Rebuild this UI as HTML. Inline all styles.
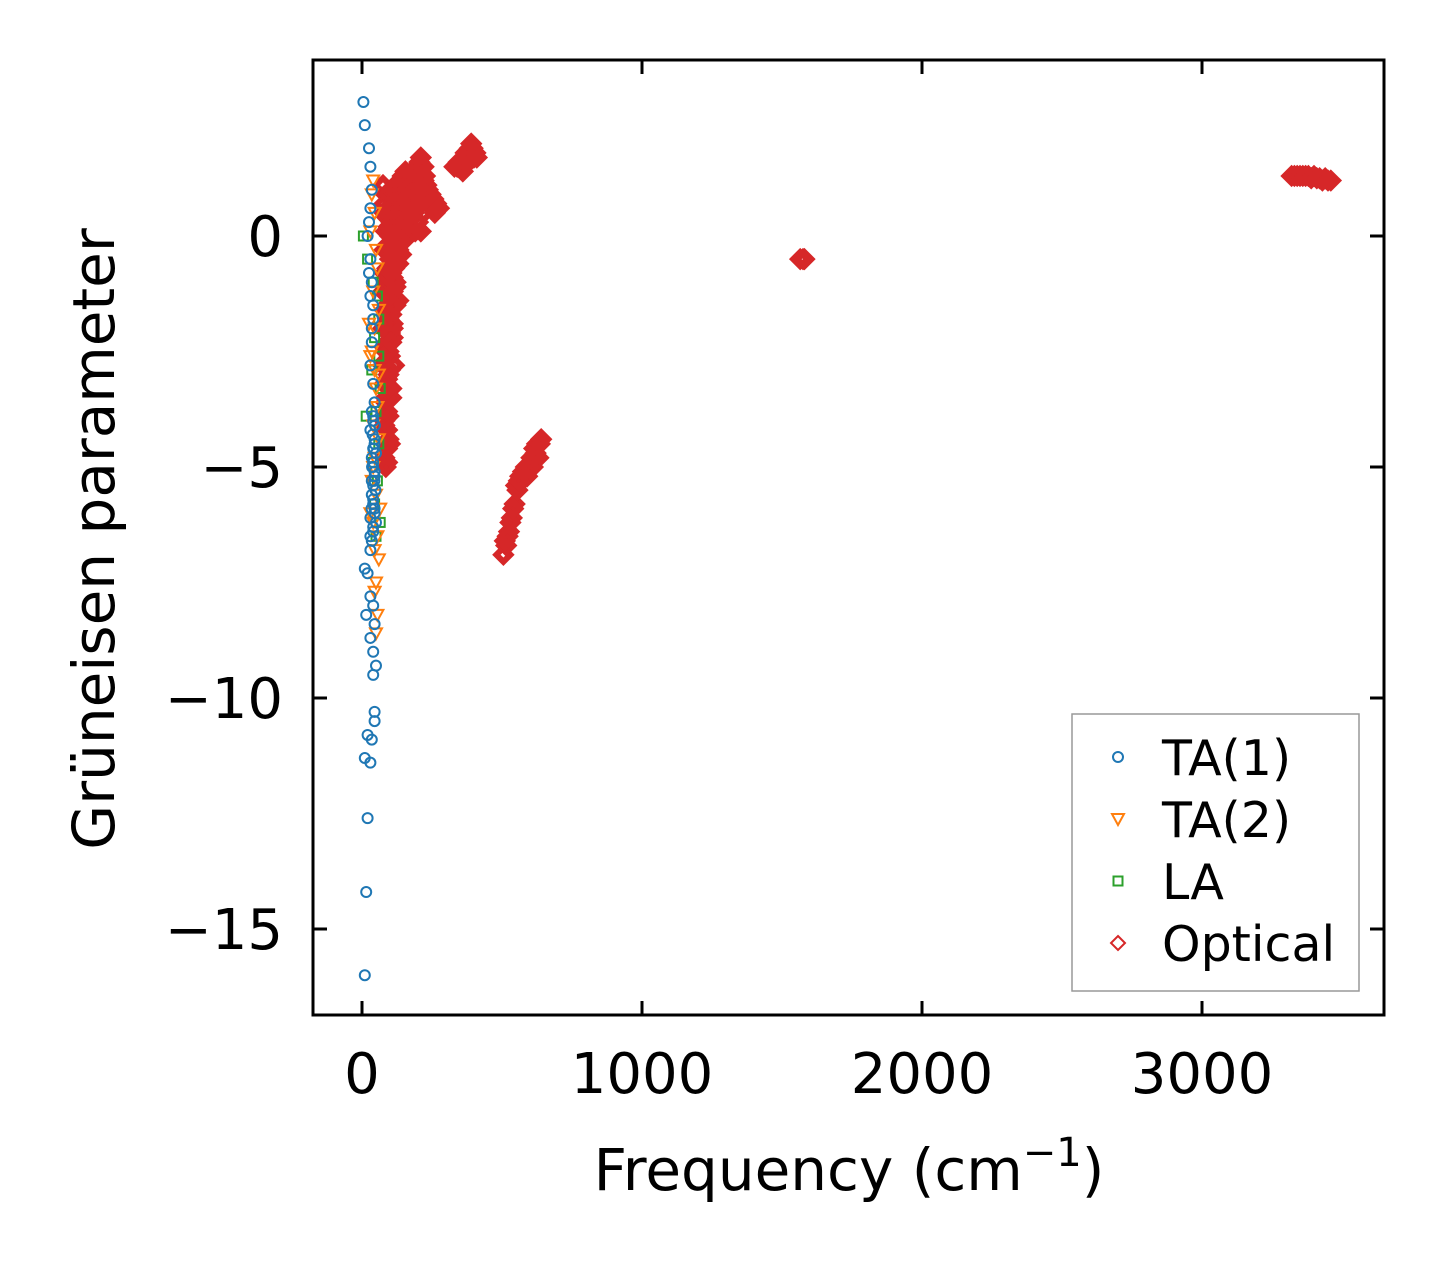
<!DOCTYPE html>
<html><head><meta charset="utf-8"><style>
html,body{margin:0;padding:0;background:#fff;}
svg{display:block;font-family:"DejaVu Sans","Liberation Sans",sans-serif;}
</style></head><body>
<svg id="chart" width="1443" height="1264" viewBox="0 0 1443 1264">
<rect x="0" y="0" width="1443" height="1264" fill="#fff"/>
<g id="marks"></g>
<g id="axes"></g>
<text x="849" y="1190" font-size="58" text-anchor="middle">Frequency (cm<tspan dy="-24" font-size="40">−1</tspan><tspan dy="24">)</tspan></text>
<text transform="translate(114,539) rotate(-90)" font-size="58" text-anchor="middle">Grüneisen parameter</text>
<g id="legend">
<rect x="1072" y="714" width="287" height="277" fill="#fff" stroke="#999" stroke-width="1.5"/>
</g>
</svg>
<script>
const xTicks=[0,1000,2000,3000];
const yTicks=[0,-5,-10,-15];
const yTickLabels=["0","−5","−10","−15"];
const ta1F=[5,10,25,30,35,30,25,20,30,25,35,30,40,35,30,40,45,35,40,30,45,40,35,40,45,40,35,40,45,50,40,35,30,40,45,35,40,30,45,50,40,10,20,30,40,15,45,30,40,50,40,45,45,20,35,10,30,20,15,10,35,40,30,45,38,42,36,44,48,34,40,46];
const ta1G=[2.9,2.4,1.9,1.5,1.0,0.6,0.3,0,-0.5,-0.8,-1.0,-1.3,-1.8,-2.3,-2.8,-3.2,-3.6,-3.8,-4.0,-4.2,-4.4,-4.6,-4.8,-5.0,-5.2,-5.4,-5.6,-5.8,-6.0,-6.2,-6.4,-6.6,-6.8,-4.9,-5.1,-5.3,-5.7,-6.1,-4.5,-4.7,-3.9,-7.2,-7.3,-7.8,-8.0,-8.2,-8.4,-8.7,-9.0,-9.3,-9.5,-10.3,-10.5,-10.8,-10.9,-11.3,-11.4,-12.6,-14.2,-16.0,-2.0,-1.5,-6.5,-5.9,-4.3,-4.6,-5.0,-5.3,-5.5,-5.9,-6.3,-4.1];
const ta2F=[40,35,45,30,50,55,25,40,60,35,45,50,30,55,40,60,45,35,50,65,40,55,45,60,50,30,45,55,50,40,60,45];
const ta2G=[1.2,0.9,0.5,0.1,-0.3,-0.7,-1.9,-1.2,-1.6,-2.5,-2.9,-3.3,-2.6,-3.7,-4.1,-4.4,-4.8,-5.3,-5.6,-5.9,-6.2,-6.5,-6.8,-7.0,-7.5,-6.0,-7.7,-8.2,-8.6,-5.0,-3.0,-2.0];
const laF=[5,20,40,55,60,45,35,65,50,15,60,40,55,45,65,50,60];
const laG=[0,-0.5,-1.0,-1.3,-1.8,-2.2,-2.9,-3.3,-3.8,-3.9,-4.5,-4.9,-5.3,-5.8,-6.2,-6.5,-2.6];
const opF=[75,80,90,100,110,120,130,140,150,160,170,180,190,200,210,220,230,240,250,260,100,120,140,160,180,200,220,240,110,130,150,170,190,210,90,100,110,120,130,140,100,110,120,130,90,100,110,95,105,115,85,95,105,90,100,80,90,85,95,80,90,85,
 85,95,105,115,125,135,145,155,165,175,185,195,205,215,225,235,245,255,265,275,
 80,90,100,110,120,130,140,150,160,170,180,190,200,210,220,230,
 85,95,105,115,125,135,145,155,165,175,185,195,205,
 80,90,100,110,120,130,140,150,
 80,90,100,110,120,130,140,75,85,95,105,115,125,80,90,100,110,120,75,85,95,105,115,80,90,100,110,75,85,95,105,80,90,100,85,95,80,90,
 330,350,370,390,410,360,380,400,340,395,345,365,385,405,355,375,
 505,515,525,535,545,555,565,575,585,595,605,615,625,635,510,530,550,570,590,610,630,520,540,560,580,600,620,640,
 1565,1575,1580,3320,3340,3360,3380,3400,3420,3440,3460,3330,3350,3370,3390,3410,3430,3450];
const opG=[1.1,0.7,0.4,0.2,0.6,0.9,1.1,1.2,1.3,1.1,1.0,0.9,1.2,1.4,1.7,1.5,1.1,0.8,0.6,0.5,-0.2,0,0.3,0.5,0.4,0.3,0.5,0.7,-0.6,-0.3,-0.1,0.2,0.1,0.1,-1.0,-1.3,-0.9,-1.1,-0.6,-0.4,-1.7,-2.0,-1.5,-1.4,-2.3,-2.6,-2.2,-3.0,-3.3,-2.8,-3.6,-3.9,-3.5,-4.2,-4.5,-4.8,-4.9,-5.0,-4.4,-4.1,-3.8,-2.5,
 0.9,0.9,1.0,1.0,1.1,1.2,1.3,1.4,1.3,1.2,1.3,1.5,1.6,1.5,1.3,1.0,0.9,0.8,0.7,0.6,
 0.5,0.5,0.6,0.7,0.8,0.9,1.0,1.0,1.0,0.9,0.8,0.8,0.9,1.1,1.2,0.9,
 0.1,0.2,0.3,0.4,0.5,0.6,0.7,0.7,0.6,0.5,0.5,0.6,0.7,
 -0.3,-0.2,0,0.1,0.2,0.3,0.3,0.3,
 -0.8,-0.7,-0.5,-0.4,-0.3,-0.2,-0.1,-1.2,-1.1,-0.9,-0.8,-0.7,-0.6,-1.6,-1.5,-1.3,-1.2,-1.0,-2.0,-1.9,-1.8,-1.7,-1.5,-2.4,-2.3,-2.1,-1.9,-2.8,-2.7,-2.5,-2.3,-3.2,-3.1,-2.9,-3.5,-3.3,-4.0,-4.6,
 1.5,1.6,1.8,2.0,1.7,1.4,1.6,1.7,1.5,1.9,1.6,1.7,1.9,1.8,1.5,1.8,
 -6.9,-6.7,-6.4,-6.1,-5.8,-5.5,-5.2,-5.1,-5.0,-5.0,-4.8,-4.6,-4.5,-4.5,-6.6,-6.2,-5.4,-5.3,-5.2,-5.0,-4.8,-6.5,-5.9,-5.3,-5.1,-5.0,-4.7,-4.4,
 -0.5,-0.5,-0.5,1.3,1.3,1.3,1.3,1.3,1.25,1.25,1.2,1.3,1.3,1.3,1.25,1.25,1.2,1.2];

const NS='http://www.w3.org/2000/svg';
const L=313,R=1384,T=60,B=1015;
const xs=v=>362+v*0.28;
const ys=v=>236-v*46.2;
function mk(tag,attrs,parent){const e=document.createElementNS(NS,tag);for(const k in attrs)e.setAttribute(k,attrs[k]);parent.appendChild(e);return e;}
const marks=document.getElementById('marks');
function marker(type,x,y,color,parent,w){
  let e;
  if(type==='o'){e=mk('circle',{cx:x,cy:y,r:5,fill:'none',stroke:color,'stroke-width':w||2},parent);}
  else if(type==='v'){e=mk('polygon',{points:`${x-6},${y-5} ${x+6},${y-5} ${x},${y+6}`,fill:'none',stroke:color,'stroke-width':w||2},parent);}
  else if(type==='s'){e=mk('rect',{x:x-4.5,y:y-4.5,width:9,height:9,fill:'none',stroke:color,'stroke-width':w||2},parent);}
  else {e=mk('polygon',{points:`${x},${y-7} ${x+7},${y} ${x},${y+7} ${x-7},${y}`,fill:'none',stroke:color,'stroke-width':w||2},parent);}
  return e;
}
const series=[
 {f:opF,g:opG,t:'d',c:'#d62728',n:'optical',w:6},
 {f:laF,g:laG,t:'s',c:'#2ca02c',n:'la'},
 {f:ta2F,g:ta2G,t:'v',c:'#ff7f0e',n:'ta2'},
 {f:ta1F,g:ta1G,t:'o',c:'#1f77b4',n:'ta1'}];
series.forEach(s=>{
  const g=mk('g',{},marks);
  
  
  for(let i=0;i<s.f.length;i++){
    const e=marker(s.t,xs(s.f[i]),ys(s.g[i]),s.c,g,s.w);
    
    
  }
});
const ax=document.getElementById('axes');
const frame=mk('rect',{x:L,y:T,width:R-L,height:B-T,fill:'none',stroke:'#000','stroke-width':3},ax);


xTicks.forEach(v=>{
  const x=xs(v);
  mk('line',{x1:x,y1:B,x2:x,y2:B-14,stroke:'#000','stroke-width':3},ax);
  mk('line',{x1:x,y1:T,x2:x,y2:T+14,stroke:'#000','stroke-width':3},ax);
  const t=mk('text',{x:x,y:B+78,'font-size':56,'text-anchor':'middle'},ax);
  t.textContent=String(v);
  
  
});
yTicks.forEach((v,i)=>{
  const y=ys(v);
  mk('line',{x1:L,y1:y,x2:L+14,y2:y,stroke:'#000','stroke-width':3},ax);
  mk('line',{x1:R,y1:y,x2:R-14,y2:y,stroke:'#000','stroke-width':3},ax);
  const t=mk('text',{x:L-30,y:y+20,'font-size':56,'text-anchor':'end'},ax);
  t.textContent=yTickLabels[i];
  
  
});
const lg=document.getElementById('legend');
const legendItems=[['o','#1f77b4','TA(1)'],['v','#ff7f0e','TA(2)'],['s','#2ca02c','LA'],['d','#d62728','Optical']];
legendItems.forEach((it,i)=>{
  const y=757+i*62;
  const g=mk('g',{},lg);
  
  
  marker(it[0],1118,y,it[1],g,2);
  const t=mk('text',{x:1162,y:y+18,'font-size':49},g);
  t.textContent=it[2];
});
</script>
</body></html>
